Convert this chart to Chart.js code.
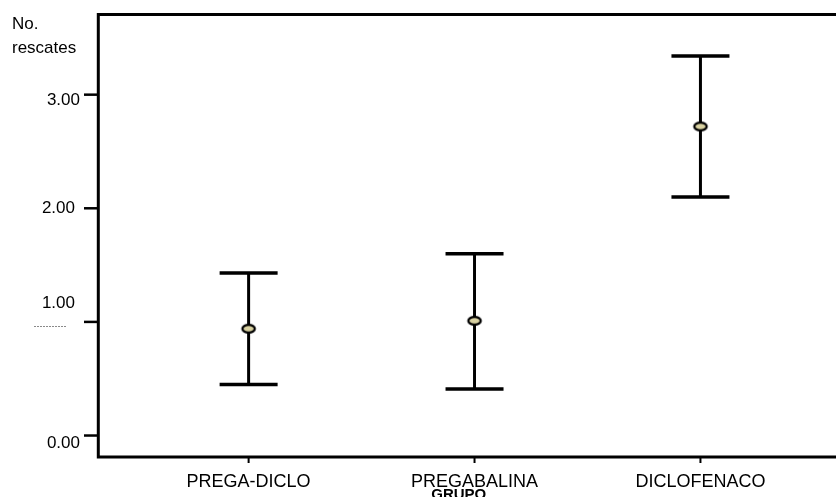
<!DOCTYPE html>
<html>
<head>
<meta charset="utf-8">
<script src="https://cdn.jsdelivr.net/npm/chart.js@4/dist/chart.umd.min.js"></script>
<style>
  html, body { margin: 0; padding: 0; background: #fff; }
  canvas { display: block; }
</style>
</head>
<body>
<canvas id="c" width="836" height="497"></canvas>
<script>
// Group means of rescue doses with their 95% confidence limits
const categories = ['PREGA-DICLO', 'PREGABALINA', 'DICLOFENACO'];
const means = [0.94, 1.01, 2.72];
const lower = [0.45, 0.41, 2.10];
const upper = [1.43, 1.60, 3.34];

// Axis ticks and titles
const yTicks = [0, 1, 2, 3];
const yTickLabels = ['0.00', '1.00', '2.00', '3.00'];
const yTitleLines = ['No.', 'rescates'];
const xTitle = 'GRUPO';

// Styling
const FONT = '"Liberation Sans", Arial, sans-serif';
const yLabelNudge = [12.5, -13.7, 4.3, 10.3];   // baseline offset from each tick
const yLabelRight = [80, 75, 75, 80];
const markerFill = '#d9d2a2';

// Elliptical mean marker
function makeMarker() {
  const c = document.createElement('canvas');
  c.width = 18; c.height = 12;
  const g = c.getContext('2d');
  g.beginPath();
  g.ellipse(9, 6, 6.2, 3.9, 0, 0, Math.PI * 2);
  g.fillStyle = markerFill;
  g.fill();
  g.lineWidth = 2.3;
  g.strokeStyle = '#000';
  g.stroke();
  return c;
}

const frame = {
  id: 'frame',
  beforeDatasetsDraw(chart) {
    const ctx = chart.ctx;
    const xs = chart.scales.x, ys = chart.scales.y;
    ctx.save();
    ctx.strokeStyle = '#000';
    ctx.lineCap = 'butt';
    for (let i = 0; i < categories.length; i++) {
      const px = xs.getPixelForValue(i + 1);
      const pu = ys.getPixelForValue(upper[i]);
      const pl = ys.getPixelForValue(lower[i]);
      ctx.lineWidth = 3;
      ctx.beginPath();
      ctx.moveTo(px, pu); ctx.lineTo(px, pl);
      ctx.stroke();
      ctx.lineWidth = 3.5;
      ctx.beginPath();
      ctx.moveTo(px - 29, pu); ctx.lineTo(px + 29, pu);
      ctx.moveTo(px - 29, pl); ctx.lineTo(px + 29, pl);
      ctx.stroke();
    }
    ctx.restore();
  },
  afterDraw(chart) {
    const ctx = chart.ctx;
    const a = chart.chartArea;
    const xs = chart.scales.x, ys = chart.scales.y;
    ctx.save();
    ctx.strokeStyle = '#000';
    ctx.lineCap = 'butt';

    // open frame: left, top, bottom
    ctx.lineWidth = 3;
    ctx.beginPath();
    ctx.moveTo(a.right, a.top + 0.5);
    ctx.lineTo(a.left + 0.3, a.top + 0.5);
    ctx.lineTo(a.left + 0.3, a.bottom);
    ctx.lineTo(a.right, a.bottom);
    ctx.stroke();

    // y ticks and labels
    ctx.fillStyle = '#000';
    ctx.font = '17px ' + FONT;
    ctx.textAlign = 'right';
    ctx.textBaseline = 'alphabetic';
    yTicks.forEach((v, i) => {
      const py = ys.getPixelForValue(v);
      ctx.lineWidth = 2.5;
      ctx.beginPath();
      ctx.moveTo(a.left - 14, py); ctx.lineTo(a.left, py);
      ctx.stroke();
      ctx.fillText(yTickLabels[i], yLabelRight[i], py + yLabelNudge[i]);
    });

    // faint dotted mark under the 1.00 label
    const p1 = ys.getPixelForValue(1);
    ctx.strokeStyle = '#8a8a8a';
    ctx.lineWidth = 1;
    ctx.setLineDash([2, 1]);
    ctx.beginPath();
    ctx.moveTo(34, Math.round(p1 + 4.5) + 0.5);
    ctx.lineTo(66, Math.round(p1 + 4.5) + 0.5);
    ctx.stroke();
    ctx.setLineDash([]);
    ctx.strokeStyle = '#000';

    // y title
    ctx.textAlign = 'left';
    ctx.font = '17px ' + FONT;
    ctx.fillText(yTitleLines[0], 12, 29);
    ctx.fillText(yTitleLines[1], 12, 53);

    // x ticks and labels
    ctx.font = '18px ' + FONT;
    ctx.textAlign = 'center';
    categories.forEach((c, i) => {
      const px = xs.getPixelForValue(i + 1);
      ctx.lineWidth = 2;
      ctx.beginPath();
      ctx.moveTo(px, a.bottom); ctx.lineTo(px, a.bottom + 6);
      ctx.stroke();
      ctx.fillText(c, px, 487);
    });

    // x title
    ctx.font = 'bold 15px ' + FONT;
    ctx.fillText(xTitle, xs.getPixelForValue(1.93), 499);
    ctx.restore();
  }
};

new Chart(document.getElementById('c'), {
  type: 'scatter',
  data: {
    datasets: [{
      label: 'Media',
      data: means.map((m, i) => ({ x: i + 1, y: m })),
      pointStyle: makeMarker(),
      pointRadius: 7,
      pointHoverRadius: 7
    }]
  },
  options: {
    responsive: false,
    devicePixelRatio: 1,
    animation: false,
    events: [],
    layout: { autoPadding: false, padding: { left: 98, top: 14, right: 0, bottom: 40 } },
    plugins: { legend: { display: false }, tooltip: { enabled: false } },
    scales: {
      x: { type: 'linear', display: false, min: 1 / 3, max: 3.6 },
      y: { type: 'linear', display: false, min: -0.189, max: 3.71 }
    }
  },
  plugins: [frame]
});
</script>
</body>
</html>
